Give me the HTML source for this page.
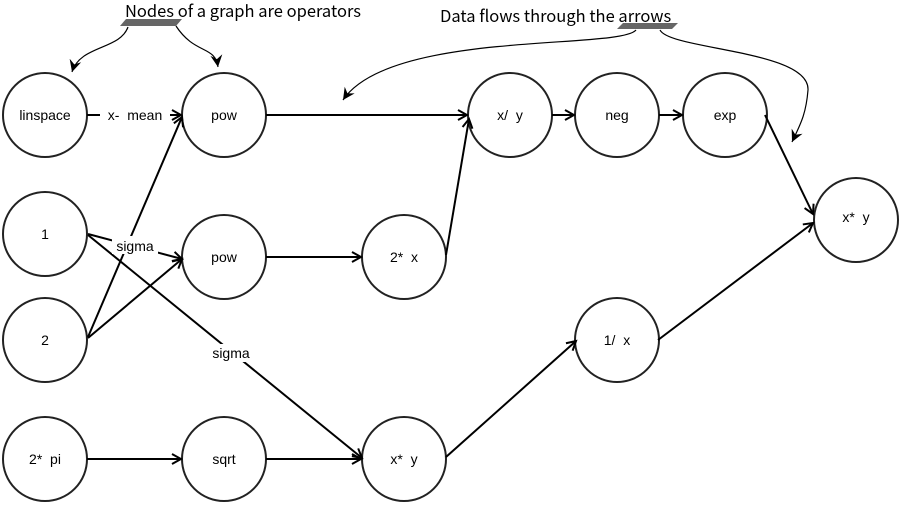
<!DOCTYPE html>
<html><head><style>
html,body{margin:0;padding:0;background:#fff;}
svg{display:block;}
text{font-family:"Liberation Sans",sans-serif;font-size:14px;fill:#000;}
.t{font-family:"Noto Sans CJK JP","Liberation Sans",sans-serif;font-size:16.5px;}
</style></head><body>
<svg width="900" height="507" viewBox="0 0 900 507" xmlns="http://www.w3.org/2000/svg">
<defs>
<marker id="a" markerWidth="12" markerHeight="12" refX="10" refY="6" orient="auto" markerUnits="userSpaceOnUse">
<polyline points="1,1 10,6 1,11" fill="none" stroke="#000" stroke-width="2"/>
</marker>
<marker id="b" markerWidth="14" markerHeight="14" refX="12" refY="7" orient="auto" markerUnits="userSpaceOnUse">
<polygon points="0,1 12,7 0,13 4,7" fill="#000"/>
</marker>
</defs>
<g fill="#fff" stroke="#222" stroke-width="2">
<circle cx="45" cy="115" r="42"/>
<circle cx="224" cy="115" r="42"/>
<circle cx="510" cy="115" r="42"/>
<circle cx="617" cy="115" r="42"/>
<circle cx="725" cy="115" r="42"/>
<circle cx="856" cy="220" r="42"/>
<circle cx="45" cy="234" r="42"/>
<circle cx="224" cy="257" r="42"/>
<circle cx="404" cy="257" r="42"/>
<circle cx="45" cy="340" r="42"/>
<circle cx="617" cy="340" r="42"/>
<circle cx="45" cy="459" r="42"/>
<circle cx="224" cy="459" r="42"/>
<circle cx="404" cy="459" r="42"/>
</g>
<g stroke="#000" stroke-width="2" fill="none" marker-end="url(#a)">
<line x1="87" y1="115" x2="181" y2="115"/>
<line x1="266" y1="115" x2="467" y2="115"/>
<line x1="552" y1="115" x2="574" y2="115"/>
<line x1="659" y1="115" x2="682" y2="115"/>
<line x1="765" y1="115" x2="813" y2="214"/>
<line x1="88" y1="337" x2="182" y2="117"/>
<line x1="88" y1="338" x2="182" y2="259"/>
<line x1="88" y1="234" x2="182" y2="259"/>
<line x1="88" y1="235" x2="362" y2="458"/>
<line x1="266" y1="257" x2="361" y2="257"/>
<line x1="446" y1="255" x2="469" y2="119"/>
<line x1="87" y1="459" x2="181" y2="459"/>
<line x1="266" y1="459" x2="361" y2="459"/>
<line x1="446" y1="457" x2="576" y2="341"/>
<line x1="658" y1="340" x2="813" y2="223"/>
</g>
<g fill="#fff">
<rect x="100" y="106" width="70" height="18"/>
<rect x="112" y="236" width="46" height="18"/>
<rect x="208" y="344" width="46" height="18"/>
</g>
<g text-anchor="middle">
<text x="45" y="120">linspace</text>
<text x="135" y="120">x-&#160; mean</text>
<text x="224" y="120">pow</text>
<text x="510" y="120">x/&#160; y</text>
<text x="617" y="120">neg</text>
<text x="725" y="120">exp</text>
<text x="856" y="222">x*&#160; y</text>
<text x="45" y="239">1</text>
<text x="135" y="251">sigma</text>
<text x="224" y="262">pow</text>
<text x="404" y="262">2*&#160; x</text>
<text x="45" y="345">2</text>
<text x="231" y="358">sigma</text>
<text x="617" y="345">1/&#160; x</text>
<text x="45" y="464">2*&#160; pi</text>
<text x="224" y="464">sqrt</text>
<text x="404" y="464">x*&#160; y</text>
</g>
<text class="t" x="125" y="17">Nodes of a graph are operators</text>
<text class="t" x="440" y="22">Data flows through the arrows</text>
<polygon points="126,19 182,19 176,26 120,26" fill="#666"/>
<polygon points="623,23 678,23 672,29 617,29" fill="#666"/>
<g stroke="#000" stroke-width="1.2" fill="none" marker-end="url(#b)">
<path d="M128,27 C120,50 80,45 72,72"/>
<path d="M176,26 C195,55 215,45 218,67"/>
<path d="M636,30 C620,50 390,30 343,100"/>
<path d="M660,30 C670,50 810,50 808,90 C806,115 800,125 792,142"/>
</g>
</svg>
</body></html>
